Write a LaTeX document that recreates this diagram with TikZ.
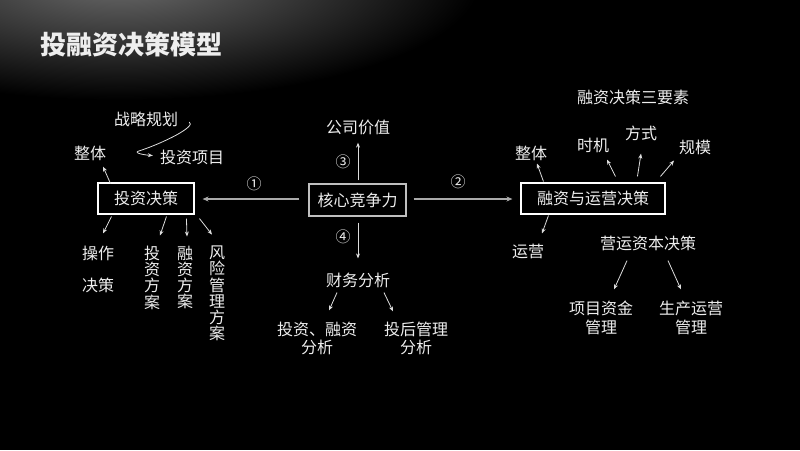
\documentclass[tikz,border=0pt]{standalone}
\usepackage{fontspec}
\setmainfont{Noto Sans CJK SC}
\usetikzlibrary{arrows.meta}
\definecolor{txt}{HTML}{EEEEEE}
\definecolor{ln}{HTML}{DDDDDD}
\definecolor{hl}{HTML}{AAAAAA}
\tikzset{
  lbl/.style={text=txt, font=\fontsize{16}{19}\selectfont, inner sep=0pt, align=center},
  vlbl/.style={text=txt, font=\fontsize{16}{16.3}\selectfont, inner sep=0pt, align=center},
  num/.style={text=txt, font=\fontsize{15}{18}\selectfont, inner sep=0pt},
  boxst/.style={draw=white, line width=1.1pt, text=txt, font=\fontsize{16}{19}\selectfont, inner sep=0pt},
  arr/.style={draw=ln, line width=0.8pt, -{Stealth[length=5pt,width=4pt]}},
  harr/.style={draw=hl, line width=1.6pt, -{Stealth[length=6pt,width=5pt]}}
}
\begin{document}
\begin{tikzpicture}[x=1pt,y=-1pt]
\useasboundingbox (0,0) rectangle (800,450);
\fill[black] (0,0) rectangle (800,450);
\begin{scope}
\clip (0,0) rectangle (800,450);
\shade[inner color=black!58!white, outer color=black] (120,-20) ellipse [x radius=360, y radius=120];
\end{scope}
% title
\node[text=txt, font=\fontsize{26}{30}\selectfont\bfseries, inner sep=0pt] (title) at (131,45) {投融资决策模型};
% boxes
\node[boxst, minimum width=96pt, minimum height=31pt] (b1) at (146,198.5) {投资决策};
\node[boxst, draw=black!25!white, minimum width=97pt, minimum height=32pt] (b0) at (357.5,200) {核心竞争力};
\node[boxst, minimum width=144pt, minimum height=31pt] (b2) at (593,198.5) {融资与运营决策};
% main horizontal arrows
\draw[harr] ([shift={(-9,-1)}]b0.west) -- ([shift={(8,0.5)}]b1.east);
\draw[harr] ([shift={(7,-1)}]b0.east) -- ([shift={(-8,0.5)}]b2.west);
\node[num] (n1) at (254,184) {①};
\node[num] (n2) at (458,182) {②};
\node[num] (n3) at (343,162) {③};
\node[num] (n4) at (343,237) {④};
% center
\node[lbl] (gs) at (358,127) {公司价值};
\node[lbl] (cw) at (358,280) {财务分析};
\node[lbl, font=\fontsize{16}{18}\selectfont] (tzrz) at (317,338) {投资、融资\\分析};
\node[lbl, font=\fontsize{16}{18}\selectfont] (thgl) at (416,338) {投后管理\\分析};
\draw[arr] ([shift={(0.5,-3)}]b0.north) -- ([shift={(0,8)}]gs.south);
\draw[arr] ([shift={(0.5,6)}]b0.south) -- ([shift={(0,-14)}]cw.north);
\draw[arr] ([shift={(-21,5)}]cw.south) -- ([shift={(12,-11)}]tzrz.north);
\draw[arr] ([shift={(26,5)}]cw.south) -- ([shift={(-23,-10)}]thgl.north);
% left
\node[lbl] (ztL) at (90,153) {整体};
\node[lbl] (zlgh) at (146,119) {战略规划};
\node[lbl] (tzxm) at (192,157) {投资项目};
\coordinate (curlmid) at ([shift={(-21,-6)}]tzxm.west);
\draw[arr] ([shift={(11,3)}]zlgh.east) .. controls +(8,4) and +(25,-8) .. (curlmid) .. controls +(-6,2) and +(-8,-0.5) .. ([shift={(-7,-1.5)}]tzxm.west);
\node[lbl] (cz) at (98,253) {操作};
\node[lbl] (jc) at (98,285) {决策};
\node[vlbl] (tzfa) at (152,277.5) {投\\资\\方\\案};
\node[vlbl] (rzfa) at (185,277.5) {融\\资\\方\\案};
\node[vlbl] (fxfa) at (217,293.5) {风\\险\\管\\理\\方\\案};
\draw[arr] ([shift={(13,1)}]b1.north west) -- ([shift={(13,6)}]ztL.south);
\draw[arr] ([shift={(14,2)}]b1.south west) -- ([shift={(5,-12)}]cz.north);
\draw[arr] ([shift={(69,2)}]b1.south west) -- ([shift={(8,-10)}]tzfa.north);
\draw[arr] ([shift={(89,4)}]b1.south west) -- ([shift={(2,-9)}]rzfa.north);
\draw[arr] ([shift={(102,4)}]b1.south west) -- ([shift={(-5,-11)}]fxfa.north);
% right
\node[lbl] (sys) at (633,97) {融资决策三要素};
\node[lbl] (ztR) at (531,153) {整体};
\node[lbl] (sj) at (593,145) {时机};
\node[lbl] (fs) at (641,133) {方式};
\node[lbl] (gm) at (695,147) {规模};
\node[lbl] (yy) at (528,251) {运营};
\node[lbl] (yyzb) at (648,243) {营运资本决策};
\node[lbl] (xmzj) at (601,317.5) {项目资金\\管理};
\node[lbl] (scyy) at (691,317.5) {生产运营\\管理};
\draw[arr] ([shift={(23,-1)}]b2.north west) -- ([shift={(6,3)}]ztR.south);
\draw[arr] ([shift={(95,-6)}]b2.north west) -- ([shift={(14,7)}]sj.south);
\draw[arr] ([shift={(117,-6)}]b2.north west) -- ([shift={(0,13)}]fs.south);
\draw[arr] ([shift={(140,-6)}]b2.north west) -- ([shift={(-21,6)}]gm.south);
\draw[arr] ([shift={(28,1)}]b2.south west) -- ([shift={(14,-10)}]yy.north);
\draw[arr] ([shift={(-21,10)}]yyzb.south) -- ([shift={(13,-11)}]xmzj.north);
\draw[arr] ([shift={(20,10)}]yyzb.south) -- ([shift={(-10,-11)}]scyy.north);
\end{tikzpicture}
\end{document}
